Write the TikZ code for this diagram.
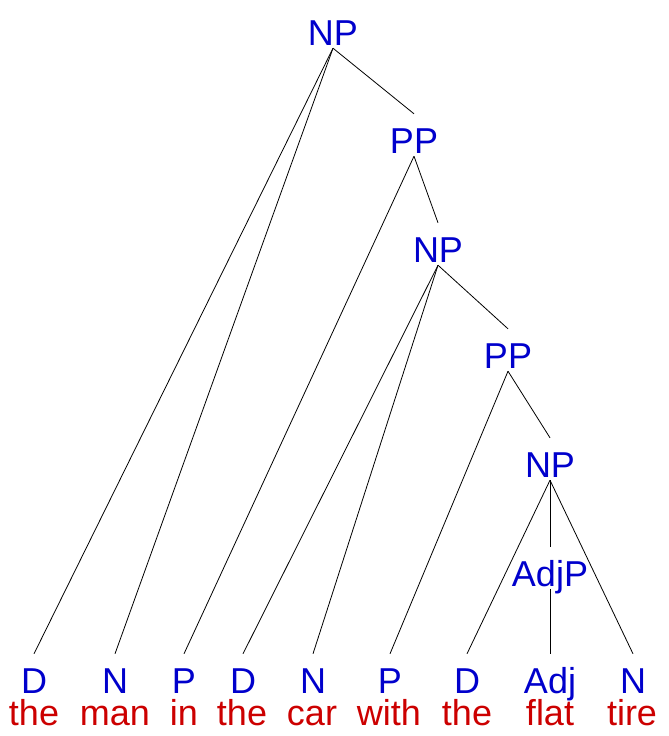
\documentclass[tikz,border=0pt]{standalone}
\usepackage{fontspec}
\setmainfont{Liberation Sans}
\usepackage{tikz}

\definecolor{catblue}{RGB}{0,0,204}
\definecolor{wordred}{RGB}{204,0,0}
\tikzset{
  cat/.style={text=catblue, font=\fontsize{36}{40}\selectfont, inner sep=0pt,
    text height=39pt, text depth=3pt, anchor=base},
  leaf/.style={cat, text depth=0pt},
  word/.style={text=wordred, font=\fontsize{36}{40}\selectfont, inner sep=0pt,
    text height=22pt, anchor=base},
  branch/.style={line width=0.8pt}
}

\begin{document}
\begin{tikzpicture}[x=1pt, y=-1pt]
  \useasboundingbox (0, 0) rectangle (669, 736);
  % phrase nodes
  \node[cat] (np1) at (333, 45) {NP};
  \node[cat] (pp1) at (414, 153) {PP};
  \node[cat] (np2) at (438, 262) {NP};
  \node[cat] (pp2) at (508, 368) {PP};
  \node[cat] (np3) at (550, 477) {NP};
  \node[cat] (adjp) at (550, 586) {AdjP};
  % preterminals
  \node[leaf] (d1) at (34, 693) {D};
  \node[leaf] (n1) at (115, 693) {N};
  \node[leaf] (p1) at (184, 693) {P};
  \node[leaf] (d2) at (243, 693) {D};
  \node[leaf] (n2) at (313, 693) {N};
  \node[leaf] (p2) at (390, 693) {P};
  \node[leaf] (d3) at (467, 693) {D};
  \node[leaf] (adj) at (550, 693) {Adj};
  \node[leaf] (n3) at (633, 693) {N};
  % words
  \node[word] (w1) at (34, 725) {the};
  \node[word] (w2) at (115, 725) {man};
  \node[word] (w3) at (184, 725) {in};
  \node[word] (w4) at (242, 725) {the};
  \node[word] (w5) at (312, 725) {car};
  \node[word] (w6) at (389, 725) {with};
  \node[word] (w7) at (467, 725) {the};
  \node[word] (w8) at (550, 725) {flat};
  \node[word] (w9) at (632, 725) {tire};
  % branches
  \foreach \mother/\daughter in {np1/d1, np1/n1, np1/pp1, pp1/p1, pp1/np2,
      np2/d2, np2/n2, np2/pp2, pp2/p2, pp2/np3,
      np3/d3, np3/adjp, np3/n3, adjp/adj}
    \draw[branch] (\mother.south) -- (\daughter.north);
\end{tikzpicture}
\end{document}
